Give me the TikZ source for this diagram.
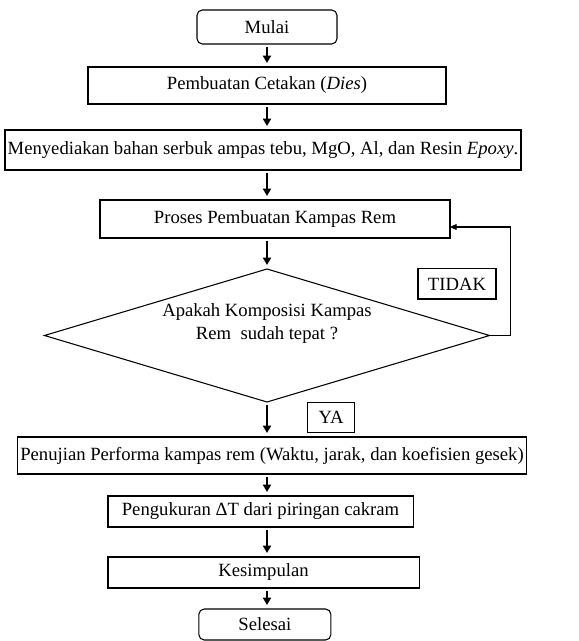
\documentclass[tikz,border=0pt]{standalone}
\usepackage{fontspec}
\setmainfont{Liberation Serif}
\usetikzlibrary{arrows.meta,positioning,shapes.geometric,calc}
\tikzset{
    line/.style     = {-{Triangle[width=6pt,length=5.5pt]}, line width=1.5pt,
            shorten <=2pt, shorten >=3pt},
    back/.style     = {-{Triangle[width=4.5pt,length=5pt]}, line width=0.8pt},
    block/.style    = {draw, line width=0.8pt, align=center, inner sep=2pt, outer sep=0pt},
    terminal/.style = {block, rounded corners=4pt},
    decision/.style = {diamond, draw, line width=0.8pt, inner sep=0pt, outer sep=0pt, aspect=3.35,
            align=center, minimum width=333.75pt, minimum height=99.75pt},
    tag/.style      = {draw, line width=0.8pt, inner sep=0pt, minimum height=22.5pt},
}
\begin{document}
\begin{tikzpicture}[font=\fontsize{14}{16.8}\selectfont]
    \useasboundingbox (-200.25pt,20.25pt) rectangle (233.25pt,-460.5pt);
    % Nodes
    \node[terminal, minimum width=105pt, minimum height=25.5pt] (mulai) {Mulai};
    \node[block, below=17.25pt of mulai, minimum width=268.5pt, minimum height=27.75pt] (cetak)
        {Pembuatan Cetakan (\textit{Dies})};
    \node[block, below=19.5pt of cetak, xshift=-3pt, minimum width=384pt, minimum height=30pt] (bahan)
        {Menyediakan bahan serbuk ampas tebu, MgO, Al, dan Resin \textit{Epoxy}.};
    \node[block, below=22.5pt of bahan, xshift=9pt, minimum width=262.5pt, minimum height=28.5pt] (proses)
        {Proses Pembuatan Kampas Rem};
    \node[decision, below=23.25pt of proses, xshift=-6pt] (cek)
        {Apakah Komposisi Kampas\\Rem~ sudah tepat ?\\[4pt]};
    \node[block, below=26.25pt of cek, xshift=3.75pt, minimum width=376.5pt, minimum height=27.75pt] (uji)
        {Penujian Performa kampas rem (Waktu, jarak, dan koefisien gesek)};
    \node[block, below=16.5pt of uji, xshift=-8.6pt, minimum width=228.75pt, minimum height=23.25pt] (ukur)
        {Pengukuran ΔT dari piringan cakram};
    \node[block, below=22.5pt of ukur, xshift=2.25pt, minimum width=233.25pt, minimum height=23.25pt] (simpul)
        {Kesimpulan};
    \node[terminal, below=15.75pt of simpul, xshift=1pt, minimum width=99pt, minimum height=23.25pt] (selesai)
        {Selesai};
    \node[tag, minimum width=58.5pt, anchor=south east] (tidak) at ([shift={(5.25pt,27pt)}]cek.east) {TIDAK};
    \node[tag, minimum width=35.25pt, anchor=north west] (ya) at ([xshift=30pt]cek.south) {YA};

    % Arrows
    \draw[line] (mulai) -- (mulai |- cetak.north);
    \draw[line] (mulai |- cetak.south) -- (mulai |- bahan.north);
    \draw[line] (mulai |- bahan.south) -- (mulai |- proses.north);
    \draw[line] (mulai |- proses.south) -- (cek.north);
    \draw[line] (cek.south) -- (mulai |- uji.north);
    \draw[line] (mulai |- uji.south) -- (mulai |- ukur.north);
    \draw[line] (mulai |- ukur.south) -- (mulai |- simpul.north);
    \draw[line] (mulai |- simpul.south) -- (mulai |- selesai.north);
    \coordinate (bend) at ([xshift=15.75pt]cek.east); % loop back on the right
    \draw[back] (cek.east) -- (bend) |- ([yshift=-6pt]proses.east);
\end{tikzpicture}
\end{document}
